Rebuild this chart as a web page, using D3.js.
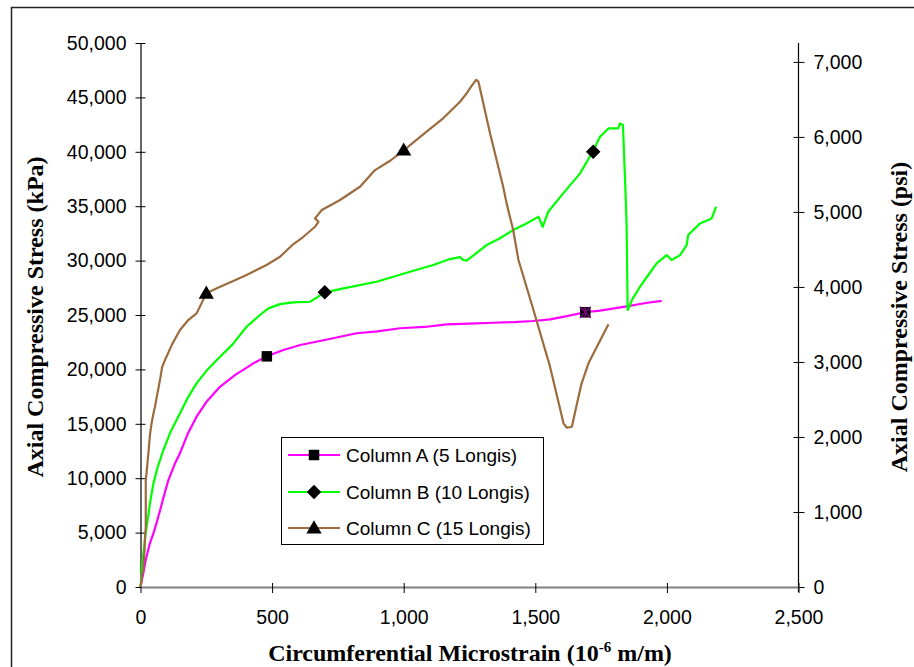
<!DOCTYPE html>
<html>
<head>
<meta charset="utf-8">
<script src="https://cdn.jsdelivr.net/npm/d3@7"></script>
<style>
  html, body { margin: 0; padding: 0; background: #fff; }
  svg { display: block; }
</style>
</head>
<body>
<svg id="chart" width="914" height="667"></svg>
<script>
// ---- data (strain in 10^-6 m/m, stress in kPa) ----
const seriesNames = ["Column A (5 Longis)", "Column B (10 Longis)", "Column C (15 Longis)"];
const seriesColors = ["#FF00FF", "#00FF00", "#9C6B3E"];
const seriesMarkers = ["square", "diamond", "triangle"];

const columnA = [[0,0],[5,600],[10,1200],[20,2500],[36,4040],[50,5000],[61,5880],[75,7100],[87,8200],[106,9830],[130,11300],[150,12300],[180,14100],[213,15650],[250,17000],[302,18400],[360,19500],[429,20560],[480,21200],[543,21780],[607,22240],[700,22700],[821,23320],[900,23500],[986,23780],[1080,23900],[1163,24140],[1250,24200],[1340,24290],[1420,24350],[1492,24450],[1556,24600],[1620,24900],[1688,25250],[1746,25400],[1847,25800],[1920,26100],[1980,26300]];

const columnB = [[0,0],[4,1000],[8,2500],[14,3700],[20,5000],[27,6160],[38,8000],[49,9500],[65,11000],[87,12590],[115,14300],[150,15960],[180,17400],[213,18720],[255,20000],[302,21160],[350,22300],[403,23920],[454,25000],[486,25610],[530,26000],[581,26160],[644,26220],[670,26600],[698,27050],[771,27450],[897,28060],[1024,28980],[1112,29590],[1176,30140],[1214,30320],[1227,30050],[1239,29990],[1315,31430],[1366,32050],[1416,32810],[1467,33420],[1512,34030],[1528,33110],[1549,34490],[1606,36180],[1670,38020],[1718,40000],[1746,41380],[1778,42150],[1815,42150],[1822,42610],[1833,42460],[1838,39240],[1843,36180],[1847,33110],[1851,25460],[1870,26500],[1898,27600],[1930,28700],[1961,29750],[1999,30500],[2018,30050],[2050,30500],[2075,31430],[2081,32350],[2126,33420],[2170,33880],[2187,34950]];

const columnC = [[0,0],[3,500],[5,1000],[10,1500],[15,3200],[17,4500],[20,5500],[20,9800],[25,11000],[30,12290],[36,14000],[42,15040],[48,15800],[55,16570],[62,17500],[74,19020],[82,20200],[93,20860],[120,22300],[150,23620],[180,24500],[213,25150],[232,26070],[250,27000],[290,27450],[350,28100],[403,28670],[454,29290],[479,29590],[530,30350],[580,31500],[619,32190],[663,33110],[676,33570],[663,33880],[689,34650],[758,35570],[834,36790],[891,38320],[950,39200],[1001,40160],[1087,41850],[1150,43080],[1214,44600],[1239,45370],[1262,46200],[1275,46600],[1284,46440],[1328,41700],[1378,36790],[1391,35260],[1416,32810],[1436,30050],[1493,25460],[1556,20250],[1590,16800],[1607,15040],[1620,14640],[1639,14730],[1655,16500],[1676,18720],[1702,20560],[1734,22080],[1778,24140]];

const markersA = [[480,21200],[1690,25250]];
const markersB = [[700,27100],[1720,40000]];
const markersC = [[250,27000],[1000,40150]];
const starMarkers = [[1690,25250]];

const xTicks = [0,500,1000,1500,2000,2500];
const yTicksKPa = [0,5000,10000,15000,20000,25000,30000,35000,40000,45000,50000];
const yTicksPsi = [0,1000,2000,3000,4000,5000,6000,7000];
const KPA_PER_PSI = 6.894757;

const xTitle = "Circumferential Microstrain (10";
const xTitleSup = "-6";
const xTitleEnd = " m/m)";
const yTitleLeft = "Axial Compressive Stress (kPa)";
const yTitleRight = "Axial Compressive Stress (psi)";

// ---- layout ----
const svg = d3.select("#chart");
const L = 140.5, R = 798.5, T = 43, B = 587;
const x = d3.scaleLinear().domain([0, 2500]).range([L, R]);
const y = d3.scaleLinear().domain([0, 50000]).range([B, T]);
const yR = d3.scaleLinear().domain([0, 50000 / KPA_PER_PSI]).range([B, T]);
const fmt = d3.format(",");
const tickFont = "'Liberation Sans', Arial, sans-serif";
const titleFont = "'Liberation Serif', 'Times New Roman', serif";

// outer frame
svg.append("rect").attr("x", 11.5).attr("y", 7.5).attr("width", 930).attr("height", 700)
  .attr("fill", "none").attr("stroke", "#222").attr("stroke-width", 1.5);

// left axis
const gL = svg.append("g").attr("transform", `translate(${L},0)`)
  .call(d3.axisLeft(y).tickValues(yTicksKPa).tickFormat(fmt).tickSizeOuter(0));
gL.select(".domain").attr("stroke", "#000").attr("stroke-width", 1.2);
gL.selectAll(".tick line").attr("x1", 5).attr("x2", -5).attr("stroke", "#000");
gL.selectAll(".tick text").attr("x", -14).attr("font-size", 19.5).attr("font-family", tickFont).attr("fill", "#000");

// right axis
const gR = svg.append("g").attr("transform", `translate(${R},0)`)
  .call(d3.axisRight(yR).tickValues(yTicksPsi).tickFormat(fmt).tickSizeOuter(0));
gR.select(".domain").attr("stroke", "#000").attr("stroke-width", 1.2)
  .attr("d", `M0,${B + 5}V${T}`);
gR.selectAll(".tick line").attr("x1", -5).attr("x2", 6).attr("stroke", "#000");
gR.selectAll(".tick text").attr("x", 15).attr("font-size", 19.5).attr("font-family", tickFont).attr("fill", "#000");

// bottom axis
const gB = svg.append("g").attr("transform", `translate(0,${B})`)
  .call(d3.axisBottom(x).tickValues(xTicks).tickFormat(fmt).tickSizeOuter(0));
gB.select(".domain").attr("stroke", "#808080").attr("stroke-width", 2);
gB.selectAll(".tick line").attr("y1", -4).attr("y2", 6).attr("stroke", "#000");
gB.selectAll(".tick text").attr("y", 37).attr("dy", null).attr("font-size", 19.5).attr("font-family", tickFont).attr("fill", "#000");

// titles
const titleSize = 24;
const xt = svg.append("text").attr("x", 470).attr("y", 661).attr("text-anchor", "middle")
  .attr("font-family", titleFont).attr("font-weight", "bold").attr("font-size", titleSize).attr("fill", "#000");
xt.append("tspan").text(xTitle);
xt.append("tspan").attr("dy", -9).attr("font-size", 15).text(xTitleSup);
xt.append("tspan").attr("dy", 9).text(xTitleEnd);

svg.append("text").attr("transform", "translate(43,317) rotate(-90)").attr("text-anchor", "middle")
  .attr("font-family", titleFont).attr("font-weight", "bold").attr("font-size", titleSize).attr("fill", "#000")
  .text(yTitleLeft);
svg.append("text").attr("transform", "translate(907,317) rotate(-90)").attr("text-anchor", "middle")
  .attr("font-family", titleFont).attr("font-weight", "bold").attr("font-size", titleSize).attr("fill", "#000")
  .text(yTitleRight);

// lines
const line = d3.line().x(d => x(d[0])).y(d => y(d[1]));
const allSeries = [columnA, columnB, columnC];
allSeries.forEach((s, i) => {
  svg.append("path").datum(s).attr("d", line).attr("fill", "none")
    .attr("stroke", seriesColors[i]).attr("stroke-width", 2.2).attr("stroke-linejoin", "round");
});

// markers
function drawMarker(g, type, cx, cy) {
  let p;
  if (type === "square") {
    p = g.append("path").attr("d", d3.symbol().type(d3.symbolSquare).size(110)())
      .attr("transform", `translate(${cx},${cy})`);
  } else if (type === "diamond") {
    p = g.append("path").attr("d", d3.symbol().type(d3.symbolSquare).size(105)())
      .attr("transform", `translate(${cx},${cy}) rotate(45)`);
  } else {
    p = g.append("path").attr("d", d3.symbol().type(d3.symbolTriangle).size(100)())
      .attr("transform", `translate(${cx},${cy + 1})`);
  }
  p.attr("fill", "#000");
}
[markersA, markersB, markersC].forEach((ms, i) => {
  ms.forEach(m => drawMarker(svg, seriesMarkers[i], x(m[0]), y(m[1])));
});
starMarkers.forEach(m => {
  const cx = x(m[0]), cy = y(m[1]), r = 5.5;
  const g = svg.append("g").attr("stroke", "#800080").attr("stroke-width", 1.5);
  g.append("line").attr("x1", cx - r).attr("y1", cy - r).attr("x2", cx + r).attr("y2", cy + r);
  g.append("line").attr("x1", cx - r).attr("y1", cy + r).attr("x2", cx + r).attr("y2", cy - r);
  g.append("line").attr("x1", cx).attr("y1", cy - r).attr("x2", cx).attr("y2", cy + r);
});

// legend
const lg = svg.append("g");
lg.append("rect").attr("x", 281.5).attr("y", 437.5).attr("width", 262).attr("height", 107)
  .attr("fill", "#fff").attr("stroke", "#000").attr("stroke-width", 1);
const rowsY = [455, 492, 528];
seriesNames.forEach((name, i) => {
  const ry = rowsY[i];
  lg.append("line").attr("x1", 288).attr("x2", 340).attr("y1", ry).attr("y2", ry)
    .attr("stroke", seriesColors[i]).attr("stroke-width", 2.2);
  drawMarker(lg, seriesMarkers[i], 314, ry);
  lg.append("text").attr("x", 346).attr("y", ry + 7).attr("font-family", tickFont)
    .attr("font-size", 19).attr("fill", "#000").text(name);
});
</script>
</body>
</html>
